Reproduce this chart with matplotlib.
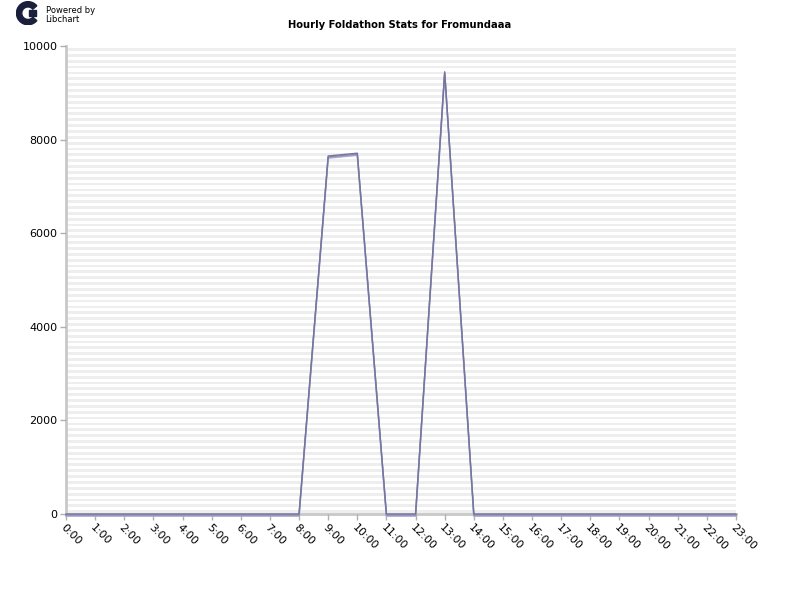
import numpy as np
import matplotlib
matplotlib.use('Agg')
from matplotlib import pyplot as plt
from matplotlib.patches import Wedge, Rectangle
import matplotlib.transforms as mtransforms

hours = ['%d:00' % h for h in range(24)]
values = [0, 0, 0, 0, 0, 0, 0, 0, 0, 7650, 7710, 0, 0, 9450, 0,
          0, 0, 0, 0, 0, 0, 0, 0, 0]
yticks = [0, 2000, 4000, 6000, 8000, 10000]

fig = plt.figure(figsize=(8, 6), dpi=100)
ax = fig.add_axes([0.0825, 0.1433, 0.8375, 0.78])

# striped background
for y0 in np.arange(0, 10000, 125):
    ax.axhspan(y0 + 20, y0 + 80, color='#eeeeee', lw=0, zorder=0)

x = np.arange(len(hours))
# shadow line offset downward, like libchart
shadow = mtransforms.offset_copy(ax.transData, fig=fig, x=0, y=-2, units='dots')
ax.plot(x, values, color='#a8a8d4', lw=1.2, zorder=2, transform=shadow, clip_on=False)
ax.plot(x, values, color='#74749c', lw=1.0, zorder=3, clip_on=False)
shadow2 = mtransforms.offset_copy(ax.transData, fig=fig, x=0, y=-1, units='dots')
ax.plot(x, values, color='#8e8eb8', lw=1.0, zorder=2, transform=shadow2, clip_on=False)

ax.set_xlim(0, 23)
ax.set_ylim(0, 10000)
ax.set_xticks(x)
ax.set_xticklabels(hours, rotation=-45, ha='left', va='top',
                   rotation_mode='anchor', fontsize=8)
ax.set_yticks(yticks)
ax.set_yticklabels([str(v) for v in yticks], fontsize=8)
ax.tick_params(color='#b0b0b0', length=4, width=1, pad=2)
for s in ['top', 'right']:
    ax.spines[s].set_visible(False)
for s in ['left', 'bottom']:
    ax.spines[s].set_color('#c8c8c8')
    ax.spines[s].set_linewidth(2)
    ax.spines[s].set_zorder(1)

fig.text(0.5, 0.958, 'Hourly Foldathon Stats for Fromundaaa', ha='center',
         va='center', fontsize=7.2, fontweight='bold')

# libchart logo
lax = fig.add_axes([0.02, 0.958, 0.03, 0.04])
lax.set_xlim(0, 1)
lax.set_ylim(0, 1)
lax.axis('off')
lax.add_patch(Wedge((0.5, 0.5), 0.48, 40, 320, width=0.22, color='#1a1f3c'))
lax.add_patch(Rectangle((0.55, 0.38), 0.3, 0.24, color='#1a1f3c'))
fig.text(0.057, 0.975, 'Powered by\nLibchart', fontsize=6, va='center',
         ha='left', linespacing=0.95)

fig.savefig('out.png')
